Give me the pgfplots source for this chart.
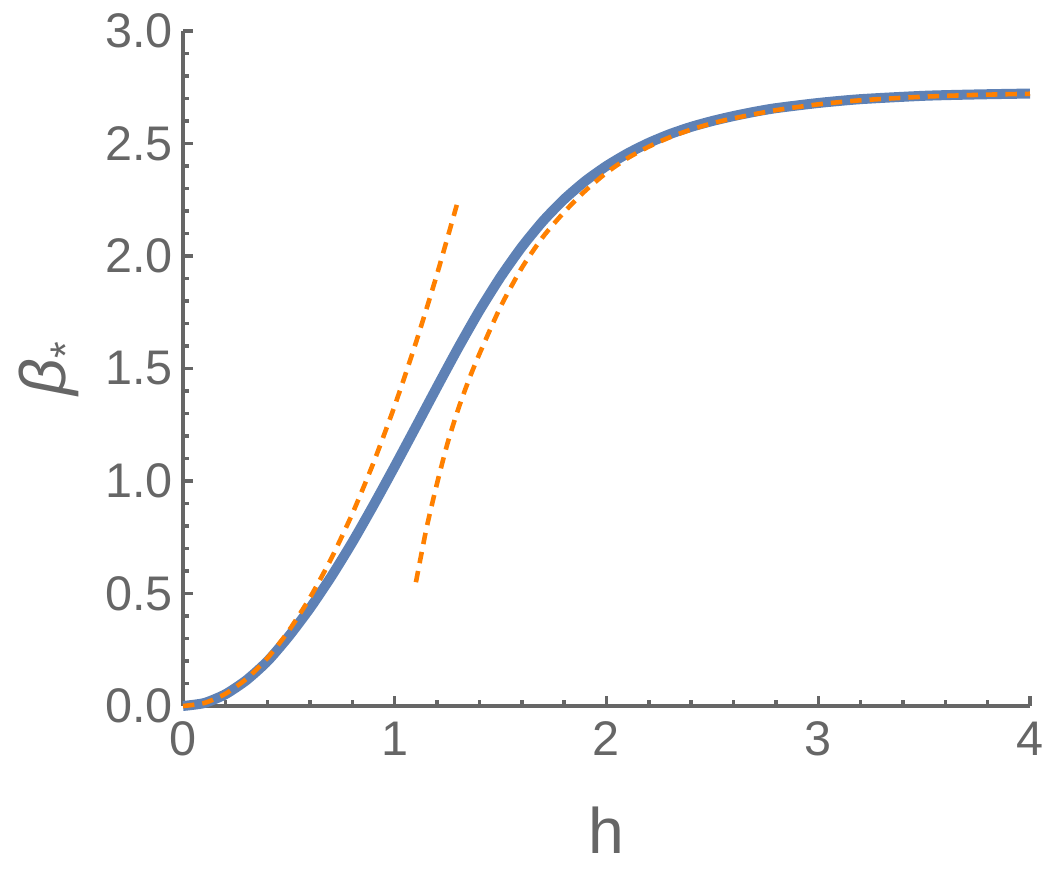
\documentclass[border=0pt]{standalone}
\usepackage{fontspec}
\setmainfont{Liberation Sans}
\usepackage{pgfplots}
\pgfplotsset{compat=1.18}
\definecolor{mmablue}{RGB}{94,129,181}
\definecolor{mmaorange}{RGB}{255,128,0}
\definecolor{axgray}{RGB}{102,102,102}
\begin{document}
\begin{tikzpicture}
\begin{axis}[
  name=ax, scale only axis,
  width=296.45pt, height=236.25pt,
  xmin=0, xmax=4, ymin=0, ymax=3,
  axis lines=left, axis line style={-, axgray, line width=1.4pt},
  xtick={0,1,2,3,4}, ytick={0,0.5,1,1.5,2,2.5,3},
  minor x tick num=4, minor y tick num=4,
  tick align=inside, tick style={axgray, line width=1.2pt},
  major tick length=3.6pt, minor tick length=2.1pt,
  tick label style={font=\fontsize{17}{17}\selectfont, text=axgray},
  /pgf/number format/assume math mode=true,
  yticklabel style={/pgf/number format/.cd, fixed, fixed zerofill, precision=1},
  xticklabel style={yshift=-2pt},
  xlabel={h}, ylabel={{\itshape β}\raisebox{-0.45ex}{\fontsize{15}{15}\selectfont *}},
  label style={font=\fontsize{22.5}{22.5}\selectfont, text=axgray},
  xlabel style={at={(axis description cs:0.5,-0.184)}, anchor=center},
  ylabel style={at={(axis description cs:-0.157,0.5)}, anchor=center},
  clip=false]
% full curve
\addplot[mmablue, line width=3.5pt, smooth, tension=0.4] coordinates {
 (0,0) (0.1,0.013) (0.2,0.052) (0.3,0.115) (0.4,0.20) (0.5,0.31)
 (0.6,0.435) (0.7,0.575) (0.8,0.728) (0.9,0.893) (1.0,1.065) (1.1,1.241)
 (1.2,1.418) (1.3,1.592) (1.4,1.757) (1.5,1.907) (1.6,2.04) (1.7,2.155)
 (1.8,2.252) (1.9,2.333) (2.0,2.40) (2.1,2.456) (2.2,2.503) (2.3,2.542)
 (2.4,2.574) (2.5,2.60) (2.6,2.622) (2.7,2.641) (2.8,2.657) (3.0,2.68)
 (3.2,2.697) (3.5,2.712) (3.75,2.718) (4.0,2.722)};
% small-h asymptote
\addplot[mmaorange, line width=1.6pt, dash pattern=on 4pt off 2.8pt, smooth, tension=0.4] coordinates {
 (0,0) (0.1,0.013) (0.2,0.054) (0.3,0.121) (0.4,0.214) (0.5,0.335)
 (0.6,0.482) (0.7,0.655) (0.8,0.855) (0.9,1.082) (1.0,1.335)
 (1.1,1.615) (1.2,1.92) (1.3,2.25)};
% large-h asymptote
\addplot[mmaorange, line width=1.6pt, dash pattern=on 4pt off 2.8pt, smooth, tension=0.4] coordinates {
 (1.1,0.55) (1.15,0.79) (1.2,0.99) (1.25,1.17) (1.3,1.32) (1.35,1.45)
 (1.4,1.565) (1.5,1.775) (1.6,1.947) (1.7,2.085) (1.8,2.195) (1.9,2.29)
 (2.0,2.37) (2.1,2.435) (2.2,2.486) (2.3,2.528) (2.4,2.562) (2.5,2.59)
 (2.6,2.612) (2.8,2.648) (3.0,2.674) (3.2,2.692) (3.5,2.708) (3.75,2.716)
 (4.0,2.721)};
\end{axis}
\pgfresetboundingbox
\path[use as bounding box] ([shift={(-64.05pt,-57.05pt)}]ax.south west)
  rectangle ([shift={(301pt,247.1pt)}]ax.south west);
\end{tikzpicture}
\end{document}
